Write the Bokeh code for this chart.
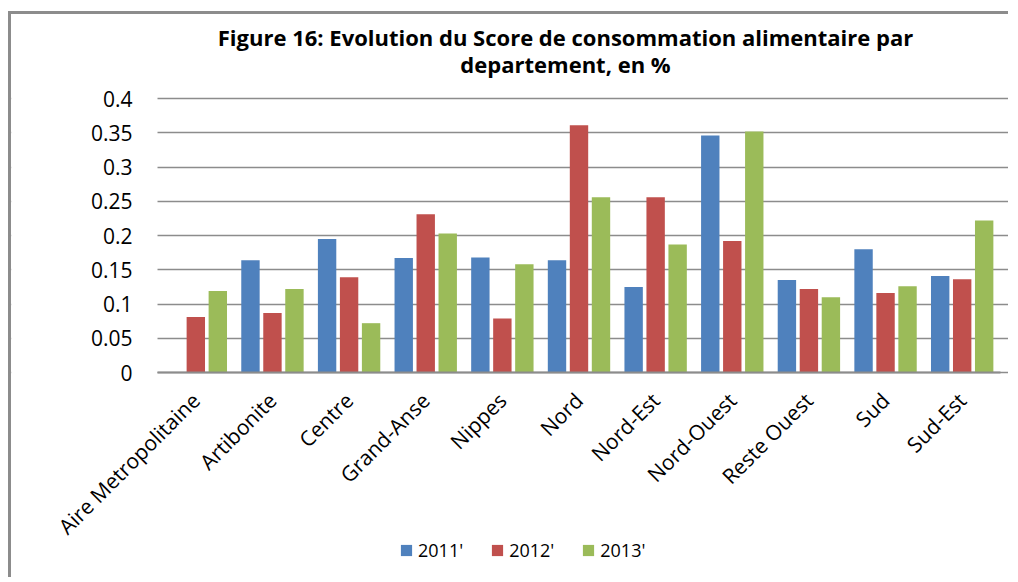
import math
from bokeh.plotting import figure
from bokeh.models import (ColumnDataSource, Range1d, FixedTicker,
                          Legend, LegendItem, Label, BoxAnnotation)
from bokeh.transform import dodge
from bokeh.embed import file_html
from bokeh.resources import INLINE

categories = ["Aire Metropolitaine", "Artibonite", "Centre", "Grand-Anse", "Nippes",
              "Nord", "Nord-Est", "Nord-Ouest", "Reste Ouest", "Sud", "Sud-Est"]
series_names = ["2011'", "2012'", "2013'"]
v2011 = [0.0, 0.164, 0.195, 0.167, 0.168, 0.164, 0.125, 0.346, 0.135, 0.180, 0.141]
v2012 = [0.081, 0.087, 0.139, 0.231, 0.079, 0.361, 0.256, 0.192, 0.122, 0.116, 0.136]
v2013 = [0.119, 0.122, 0.072, 0.203, 0.158, 0.256, 0.187, 0.352, 0.110, 0.126, 0.222]
y_ticks = [0, 0.05, 0.1, 0.15, 0.2, 0.25, 0.3, 0.35, 0.4]
y_tick_labels = ["0", "0.05", "0.1", "0.15", "0.2", "0.25", "0.3", "0.35", "0.4"]
title_line1 = "Figure 16: Evolution du Score de consommation alimentaire par"
title_line2 = "departement, en %"

colors = ["#4F81BD", "#C0504D", "#9BBB59"]
FONT = "Open Sans"

# ---- layout in pixels (canvas 1000 x 566) ----
W, H = 1000, 566
PLOT_LEFT_PX, PLOT_RIGHT_PX = 146, 989   # category band inside the canvas
AXIS_TOP_PX, AXIS_ZERO_PX = 84, 358      # y = 0.4 and y = 0, from canvas top
n = len(categories)
x_px_per_unit = (PLOT_RIGHT_PX - PLOT_LEFT_PX) / n
x_start = -0.5 - PLOT_LEFT_PX / x_px_per_unit
x_end = n - 0.5 + (W - PLOT_RIGHT_PX) / x_px_per_unit
Y_MAX = 0.4
y_px_per_unit = (AXIS_ZERO_PX - AXIS_TOP_PX) / Y_MAX
y_start = -(H - AXIS_ZERO_PX) / y_px_per_unit
y_end = Y_MAX + AXIS_TOP_PX / y_px_per_unit

xpos = list(range(n))
src = ColumnDataSource(dict(x=xpos, v2011=v2011, v2012=v2012, v2013=v2013))

p = figure(x_range=Range1d(x_start, x_end), y_range=Range1d(y_start, y_end),
           width=W, height=H,
           output_backend="svg", toolbar_location=None,
           min_border_left=0, min_border_right=0,
           min_border_top=0, min_border_bottom=0)
p.styles = {"margin-top": "11px", "margin-left": "8px",
            "border-left": "3px solid #8c8c8c", "border-top": "3px solid #8c8c8c"}

p.outline_line_color = None
p.background_fill_color = "white"
p.border_fill_color = "white"

# grid lines (only across the category band)
p.xgrid.grid_line_color = None
p.ygrid.grid_line_color = "#8c8c8c"
p.ygrid.grid_line_width = 1.5
p.yaxis.ticker = FixedTicker(ticks=y_ticks)
p.add_layout(BoxAnnotation(right=-0.5, fill_color="white", fill_alpha=1.0,
                           line_alpha=0, level="underlay"))

renderers = []
for off, col, c in zip([-0.287, 0.0, 0.287], ["v2011", "v2012", "v2013"], colors):
    r = p.vbar(x=dodge("x", off), top=col, bottom=0, width=0.24,
               source=src, fill_color=c, line_color=None)
    renderers.append(r)

# y axis at the left edge of the category band
p.yaxis.fixed_location = -0.5
p.yaxis.major_label_overrides = {t: s for t, s in zip(y_ticks, y_tick_labels)}
p.yaxis.axis_line_color = None
p.yaxis.major_tick_line_color = None
p.yaxis.minor_tick_line_color = None
p.yaxis.major_tick_out = 0
p.yaxis.major_tick_in = 0
p.yaxis.major_label_standoff = 25
p.yaxis.major_label_text_font = FONT
p.yaxis.major_label_text_font_size = "21px"
p.yaxis.major_label_text_color = "black"

# x axis drawn at y = 0
p.xaxis.fixed_location = 0
p.xaxis.bounds = (-0.5, n - 0.5)
p.xaxis.ticker = FixedTicker(ticks=xpos)
p.xaxis.major_label_overrides = {i: c for i, c in zip(xpos, categories)}
p.xaxis.axis_line_color = "#8c8c8c"
p.xaxis.axis_line_width = 2
p.xaxis.major_tick_line_color = None
p.xaxis.minor_tick_line_color = None
p.xaxis.major_tick_out = 0
p.xaxis.major_tick_in = 0
p.xaxis.major_label_orientation = math.pi / 4
p.xaxis.major_label_standoff = 24
p.xaxis.major_label_text_font = FONT
p.xaxis.major_label_text_font_size = "21px"
p.xaxis.major_label_text_color = "black"

# title, two centred lines (screen units from the frame's bottom-left)
for txt, ty in [(title_line1, 544), (title_line2, 517)]:
    p.add_layout(Label(x=554, y=ty, x_units="screen", y_units="screen", text=txt,
                       text_align="center", text_baseline="middle",
                       text_font=FONT, text_font_size="22px", text_font_style="bold",
                       text_color="black"))

legend = Legend(items=[LegendItem(label=s, renderers=[r]) for s, r in zip(series_names, renderers)],
                orientation="horizontal", location=(388, 18),
                glyph_width=14, glyph_height=14, label_height=14,
                label_standoff=5, spacing=27, padding=0, margin=0,
                border_line_color=None, background_fill_alpha=0,
                label_text_font=FONT, label_text_font_size="18px",
                label_text_color="black")
p.add_layout(legend, "center")

open("out.html", "w").write(file_html(p, INLINE))
